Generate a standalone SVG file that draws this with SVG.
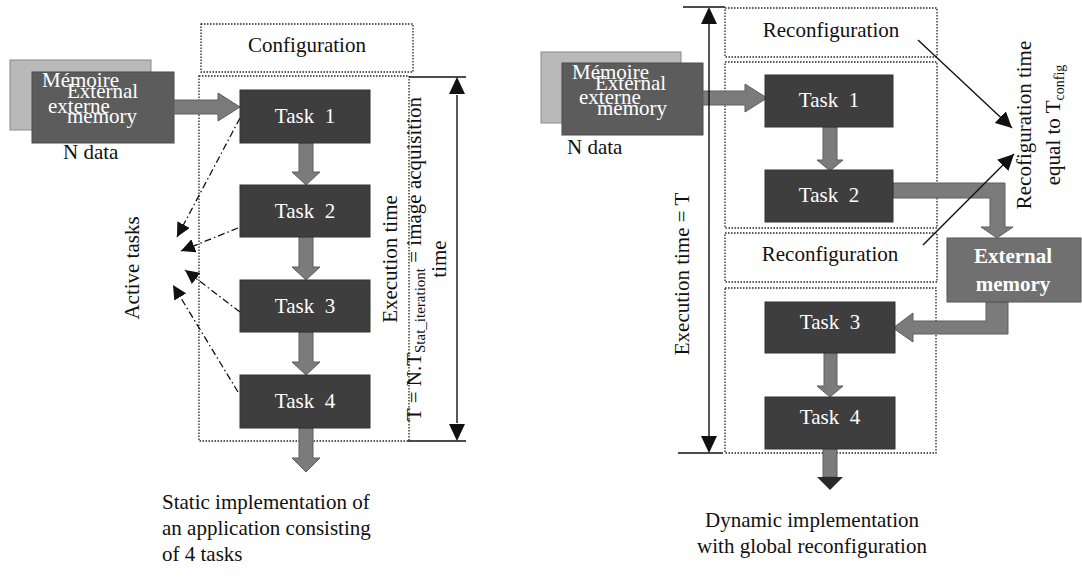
<svg xmlns="http://www.w3.org/2000/svg" width="1082" height="578" viewBox="0 0 1082 578">
<style>
text{font-family:"Liberation Serif","Times New Roman",serif;font-size:21px;fill:#111}
.w{fill:#fff}
.task{fill:#3e3e3e;stroke:#333;stroke-width:1}
.memb{fill:#b9b9b9;stroke:#8a8a8a;stroke-width:1}
.memf{fill:#5c5c5c;stroke:#4a4a4a;stroke-width:1}
.dot{fill:none;stroke:#222;stroke-width:1.3;stroke-dasharray:1.5 1.5}
.fat{fill:#7b7b7b;stroke:#5e5e5e;stroke-width:1}
.ln{fill:none;stroke:#111;stroke-width:1.4}
.dd{fill:none;stroke:#111;stroke-width:1.3;stroke-dasharray:7 3 1.5 3}
</style>
<defs>
<marker id="ah" markerUnits="userSpaceOnUse" markerWidth="18" markerHeight="16" refX="16" refY="8" orient="auto"><path d="M0,0 L16,8 L0,16 Z" fill="#111"/></marker>
<marker id="ah2" markerUnits="userSpaceOnUse" markerWidth="16" markerHeight="14" refX="14" refY="7" orient="auto"><path d="M0,0 L14,7 L0,14 Z" fill="#111"/></marker>
</defs>

<!-- LEFT: static implementation -->
<g id="config-left">
<rect class="dot" x="201" y="24" width="212" height="48"/>
<text x="307" y="52" text-anchor="middle">Configuration</text>
</g>
<g id="frame-left"><rect class="dot" x="199" y="76" width="210" height="365"/></g>

<g id="memory-left">
<rect class="memb" x="10" y="60" width="141" height="70"/>
<rect class="memf" x="32" y="72" width="142" height="71"/>
<text class="w" x="42" y="87">Mémoire</text>
<text class="w" x="67" y="98">External</text>
<text class="w" x="48" y="113">externe</text>
<text class="w" x="67" y="123">memory</text>
<text x="63" y="159">N data</text>
</g>

<g id="connectors-left">
<polygon class="fat" points="174,100 218,100 218,93 240,107 218,121 218,114 174,114"/>
<polygon class="fat" points="299,143 313,143 313,172 320,172 306,185 292,172 299,172"/>
<polygon class="fat" points="299,237 313,237 313,267 320,267 306,280 292,267 299,267"/>
<polygon class="fat" points="299,332 313,332 313,362 320,362 306,375 292,362 299,362"/>
<polygon class="fat" points="299,428 313,428 313,458 320,458 306,472 292,458 299,458"/>
<line class="dd" x1="240" y1="118" x2="177" y2="237" marker-end="url(#ah2)"/>
<line class="dd" x1="238" y1="228" x2="181" y2="251" marker-end="url(#ah2)"/>
<line class="dd" x1="240" y1="312" x2="185" y2="270" marker-end="url(#ah2)"/>
<line class="dd" x1="238" y1="392" x2="173" y2="285" marker-end="url(#ah2)"/>
<line class="ln" x1="409" y1="77" x2="466" y2="77"/>
<line class="ln" x1="408" y1="441" x2="466" y2="441"/>
<line class="ln" x1="457" y1="95" x2="457" y2="423"/>
<path d="M457,77 L449,94 L465,94 Z" fill="#111"/>
<path d="M457,441 L449,424 L465,424 Z" fill="#111"/>
</g>

<g id="task1-left"><rect class="task" x="240" y="90" width="130" height="53"/><text class="w" x="305" y="123" text-anchor="middle" xml:space="preserve">Task  1</text></g>
<g id="task2-left"><rect class="task" x="240" y="185" width="130" height="52"/><text class="w" x="305" y="218" text-anchor="middle" xml:space="preserve">Task  2</text></g>
<g id="task3-left"><rect class="task" x="240" y="280" width="130" height="52"/><text class="w" x="305" y="313" text-anchor="middle" xml:space="preserve">Task  3</text></g>
<g id="task4-left"><rect class="task" x="240" y="375" width="130" height="53"/><text class="w" x="305" y="408" text-anchor="middle" xml:space="preserve">Task  4</text></g>

<g id="labels-left">
<text transform="translate(139,268) rotate(-90)" text-anchor="middle">Active tasks</text>
<text transform="translate(397,259) rotate(-90)" text-anchor="middle">Execution time</text>
<text transform="translate(421,259) rotate(-90)" text-anchor="middle">T = N.T<tspan font-size="15" dy="4">Stat_iterationt</tspan><tspan dy="-4"> = image acquisition</tspan></text>
<text transform="translate(446,259) rotate(-90)" text-anchor="middle">time</text>
<text x="162" y="509">Static implementation of</text>
<text x="162" y="535">an application consisting</text>
<text x="162" y="561">of 4 tasks</text>
</g>

<!-- RIGHT: dynamic implementation -->
<g id="reconfig1">
<rect class="dot" x="725" y="8" width="212" height="49"/>
<text x="831" y="37" text-anchor="middle">Reconfiguration</text>
</g>
<g id="frame-right-1"><rect class="dot" x="725" y="62" width="212" height="166"/></g>
<g id="reconfig2">
<rect class="dot" x="725" y="233" width="212" height="49"/>
<text x="830" y="261" text-anchor="middle">Reconfiguration</text>
</g>
<g id="frame-right-2"><rect class="dot" x="725" y="288" width="211" height="165"/></g>

<g id="memory-right">
<rect class="memb" x="541" y="52" width="140" height="71"/>
<rect class="memf" x="562" y="63" width="141" height="72"/>
<text class="w" x="572" y="79">Mémoire</text>
<text class="w" x="595" y="90">External</text>
<text class="w" x="579" y="104">externe</text>
<text class="w" x="597" y="115">memory</text>
<text x="567" y="154">N data</text>
</g>

<g id="connectors-right">
<polygon class="fat" points="703,91 745,91 745,84 767,98 745,112 745,105 703,105"/>
<polygon class="fat" points="823,127 837,127 837,160 843,160 830,171 817,160 823,160"/>
<polygon class="fat" points="824,353 837,353 837,386 843,386 830,397 817,386 824,386"/>
<polygon class="fat" points="823,449 837,449 837,477 823,477"/>
<polygon points="817,477 843,477 830,490" fill="#2a2a2a"/>
<polygon class="fat" points="893,183 1005,183 1005,227 1013,227 997,238 981,227 990,227 990,198 893,198"/>
<polygon class="fat" points="1008,302 1008,334 913,334 913,342 893,328 913,313 913,321 986,321 986,302"/>
<line class="ln" x1="918" y1="40" x2="1012" y2="128" marker-end="url(#ah)"/>
<line class="ln" x1="923" y1="245" x2="1014" y2="154" marker-end="url(#ah)"/>
<line class="ln" x1="683" y1="7" x2="725" y2="7"/>
<line class="ln" x1="678" y1="453" x2="723" y2="453"/>
<line class="ln" x1="709" y1="24" x2="709" y2="436"/>
<path d="M709,7 L701,24 L717,24 Z" fill="#111"/>
<path d="M709,453 L701,436 L717,436 Z" fill="#111"/>
</g>

<g id="task1-right"><rect class="task" x="765" y="75" width="128" height="52"/><text class="w" x="829" y="107" text-anchor="middle" xml:space="preserve">Task  1</text></g>
<g id="task2-right"><rect class="task" x="765" y="170" width="128" height="52"/><text class="w" x="829" y="202" text-anchor="middle" xml:space="preserve">Task  2</text></g>
<g id="task3-right"><rect class="task" x="765" y="302" width="130" height="51"/><text class="w" x="830" y="329" text-anchor="middle" xml:space="preserve">Task  3</text></g>
<g id="task4-right"><rect class="task" x="765" y="397" width="130" height="52"/><text class="w" x="830" y="424" text-anchor="middle" xml:space="preserve">Task  4</text></g>

<g id="external-memory">
<rect x="947" y="238" width="134" height="64" fill="#707070" stroke="#555" stroke-width="1"/>
<text class="w" x="1013" y="263" text-anchor="middle" font-weight="bold">External</text>
<text class="w" x="1013" y="291" text-anchor="middle" font-weight="bold">memory</text>
</g>

<g id="labels-right">
<text transform="translate(689,274) rotate(-90)" text-anchor="middle">Execution time = T</text>
<text transform="translate(1031,125) rotate(-90)" text-anchor="middle">Recofiguration time</text>
<text transform="translate(1060,125) rotate(-90)" text-anchor="middle">equal to T<tspan font-size="14" dy="4">config</tspan></text>
<text x="812" y="527" text-anchor="middle" font-size="22">Dynamic implementation</text>
<text x="812" y="553" text-anchor="middle" font-size="22">with global reconfiguration</text>
</g>
</svg>
